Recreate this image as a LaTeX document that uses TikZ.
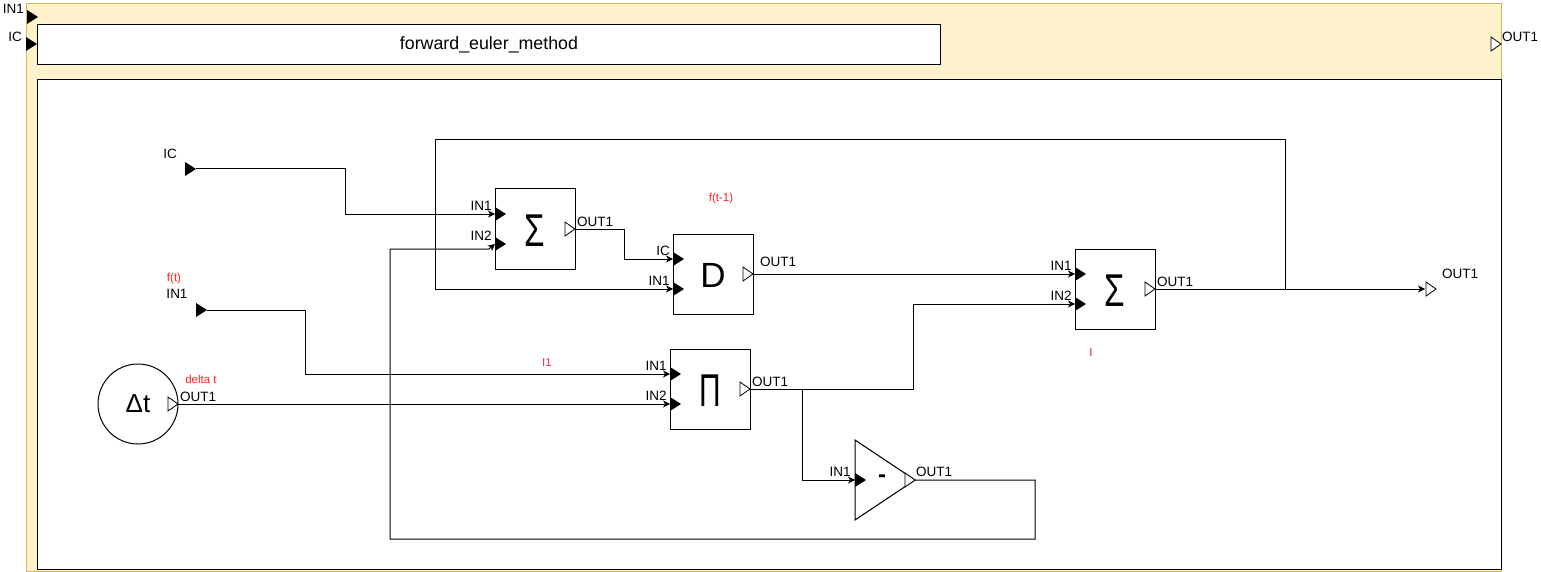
\documentclass[tikz,border=0pt]{standalone}
\usepackage{fontspec}
\setmainfont{Liberation Sans}
\usetikzlibrary{arrows.meta}
\definecolor{yfill}{HTML}{FFF2CC}
\definecolor{yline}{HTML}{D6B656}
\definecolor{lblred}{HTML}{FF2020}
\definecolor{lblpink}{HTML}{E0306A}
\begin{document}
\begin{tikzpicture}[x=1pt,y=-1pt,
  wire/.style={draw=black, line width=1pt},
  arr/.style={wire, -{Stealth[length=7pt,width=7pt,inset=2pt]}},
  block/.style={draw=black, fill=white, line width=1pt, minimum width=80pt, minimum height=80pt, inner sep=0pt},
  plbl/.style={inner sep=0pt, font=\fontsize{13.5}{13.5}\selectfont},
  rlbl/.style={inner sep=0pt, text=lblred, font=\fontsize{11.5}{12}\selectfont},
  bigsym/.style={inner sep=0pt, font=\fontsize{46}{46}\selectfont},
  inport/.pic={\fill[black] (0,-7) -- (11,0) -- (0,7) -- cycle;},
  outport/.pic={\draw[black, fill=white, line width=0.8pt] (-10,-7) -- (0,0) -- (-10,7) -- cycle;},
]
\useasboundingbox (0,0) rectangle (1541,572);
% outer subsystem box
\draw[draw=yline, fill=yfill, line width=1pt] (26,4) rectangle (1501,571.5);
\node[draw=black, fill=white, line width=1pt, minimum width=903pt, minimum height=40pt, inner sep=0pt, anchor=north west,
      font=\fontsize{17.8}{18}\selectfont] (title) at (37,24) {forward\_euler\_method};
\draw[draw=black, fill=white, line width=1pt] (37,80) rectangle (1501,569);
% outer ports
\pic at (27,17) {inport};
\pic at (26,44) {inport};
\pic at (1501,44) {outport};
\node[plbl, anchor=east] (oin1) at (24,9) {IN1};
\node[plbl, anchor=east] (oic) at (22,37) {IC};
\node[plbl, anchor=west] (oout) at (1502,37) {OUT1};

% blocks
\node[block] (s1) at (535,229) {};
\node[block] (d) at (713,274) {};
\node[block] (s2) at (1115,289) {};
\node[block] (p) at (710,389) {};
\node[draw=black, fill=white, circle, line width=1pt, minimum size=80pt, inner sep=0pt] (dt) at (138,404) {};
\draw[draw=black, fill=white, line width=1pt] (855,440) -- (915,480) -- (855,520) -- cycle;

% port coordinates
\coordinate (icsrc) at (196,169);
\coordinate (fsrc) at (207,310);
\coordinate (s1in1) at (495,214);
\coordinate (s1in2) at (495,244);
\coordinate (s1out) at (575,229);
\coordinate (dic) at (673,259);
\coordinate (din1) at (673,289);
\coordinate (dout) at (753,274);
\coordinate (s2in1) at (1075,274);
\coordinate (s2in2) at (1075,304);
\coordinate (s2out) at (1155,289);
\coordinate (pin1) at (670,374);
\coordinate (pin2) at (670,404);
\coordinate (pout) at (750,389);
\coordinate (dtout) at (178,404);
\coordinate (negin) at (855,480);
\coordinate (negout) at (915,480);
\coordinate (fout) at (1425,289);
\coordinate (tap) at (1285,289);
\coordinate (branch) at (802,389);

% wires
\draw[arr] (icsrc) -- (345,169) -- (345,214) -- (s1in1);
\draw[arr] (s1out) -- (624,229) -- (624,259) -- (dic);
\draw[arr] (tap) -- (1285,140) -- (435,140) -- (435,289) -- (din1);
\draw[arr] (dout) -- (s2in1);
\draw[arr] (s2out) -- (fout);
\draw[arr] (fsrc) -- (305,310) -- (305,374) -- (pin1);
\draw[arr] (dtout) -- (pin2);
\draw[arr] (pout) -- (913,389) -- (913,304) -- (s2in2);
\draw[arr] (branch) -- (802,480) -- (negin);
\draw[arr] (negout) -- (1035,480) -- (1035,539) -- (390,539) -- (390,249) -- (489,249) -- (s1in2);

% block symbols
\node[bigsym] (s1sym) at (535,231) {\scalebox{0.72}[1]{Σ}};
\node[bigsym] (s2sym) at (1115,291) {\scalebox{0.72}[1]{Σ}};
\node[inner sep=0pt, font=\fontsize{35}{35}\selectfont] (dsym) at (713,275) {D};
\node[bigsym] (psym) at (710,391) {\scalebox{0.65}[1]{Π}};
\node[inner sep=0pt, font=\fontsize{26}{26}\selectfont] (dtsym) at (138,404) {Δt};
\node[inner sep=0pt, font=\fontsize{24}{24}\selectfont\bfseries] (negsym) at (882,479) {-};

% ports on blocks
\pic at (185,169) {inport};
\pic at (196,310) {inport};
\pic at (s1in1) {inport};
\pic at (s1in2) {inport};
\pic at (s1out) {outport};
\pic at (dic) {inport};
\pic at (din1) {inport};
\pic at (dout) {outport};
\pic at (s2in1) {inport};
\pic at (s2in2) {inport};
\pic at (s2out) {outport};
\pic at (pin1) {inport};
\pic at (pin2) {inport};
\pic at (pout) {outport};
\pic at (dtout) {outport};
\pic at (negin) {inport};
\pic at (negout) {outport};
\pic at (1436,289) {outport};

% labels
\node[plbl] (licsrc) at (170,154) {IC};
\node[rlbl] (lft) at (174,279) {f(t)};
\node[plbl] (lfin) at (177,294) {IN1};
\node[plbl] (ls1a) at (481,206) {IN1};
\node[plbl] (ls1b) at (481,236) {IN2};
\node[plbl, anchor=west] (ls1o) at (577,222) {OUT1};
\node[plbl] (ldic) at (663,251) {IC};
\node[plbl] (ldin) at (659,281) {IN1};
\node[plbl, anchor=west] (ldo) at (760,262) {OUT1};
\node[rlbl] (lft1) at (721,199) {f(t-1)};
\node[plbl] (ls2a) at (1061,266) {IN1};
\node[plbl] (ls2b) at (1061,296) {IN2};
\node[plbl, anchor=west] (ls2o) at (1157,282) {OUT1};
\node[rlbl] (lI) at (1091,353) {I};
\node[plbl] (lfout) at (1460,274) {OUT1};
\node[plbl] (lpa) at (656,366) {IN1};
\node[plbl] (lpb) at (656,396) {IN2};
\node[plbl, anchor=west] (lpo) at (752,382) {OUT1};
\node[rlbl, text=lblpink] (lI1) at (547,363) {I1};
\node[rlbl] (ldelta) at (201,379) {delta t};
\node[plbl, anchor=west] (ldto) at (180,397) {OUT1};
\node[plbl] (lnegi) at (840,472) {IN1};
\node[plbl, anchor=west] (lnego) at (916,472) {OUT1};
\end{tikzpicture}
\end{document}
